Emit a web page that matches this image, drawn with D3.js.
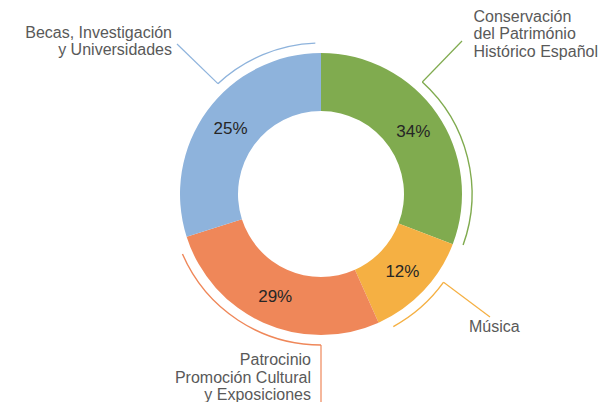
<!DOCTYPE html>
<html>
<head>
<meta charset="utf-8">
<script src="https://cdn.jsdelivr.net/npm/d3@7"></script>
<style>
    body { margin: 0; background: #fff; }
    svg { display: block; font-family: "Liberation Sans", Arial, sans-serif; }
</style>
</head>
<body>
<script>
// slice sizes as drawn (the printed labels differ a bit from the geometry)
const categories = ["Conservación del Património Histórico Español", "Música", "Patrocinio Promoción Cultural y Exposiciones", "Becas, Investigación y Universidades"];
const sliceValues = [30.8, 12.5, 26.8, 29.9];
const percentLabels = ["34%", "12%", "29%", "25%"];
const labelLines = [
    ["Conservación", "del Património", "Histórico Español"],
    ["Música"],
    ["Patrocinio", "Promoción Cultural", "y Exposiciones"],
    ["Becas, Investigación", "y Universidades"]
];
const colors = ["#80ab4f", "#f5b043", "#ef8759", "#8eb3dc"];

function main() {
    const canvasWidth = 608;
    const canvasHeight = 402;
    const cx = 321, cy = 194;
    const outerR = 141, innerR = 83, calloutR = 151;

    const svg = d3.select("body").append("svg")
        .attr("width", canvasWidth)
        .attr("height", canvasHeight)

    const g = svg.append("g")
        .attr("transform", "translate(" + cx + "," + cy + ")");

    const pie = d3.pie().sort(null).value(d => d);
    const arcs = pie(sliceValues);

    const arc = d3.arc().innerRadius(innerR).outerRadius(outerR);

    g.selectAll(".slice")
        .data(arcs)
        .enter()
        .append("path")
        .attr("class", "slice")
        .attr("d", arc)
        .style("fill", (d, i) => colors[i])

    g.selectAll(".pct")
        .data(arcs)
        .enter()
        .append("text")
        .attr("class", "pct")
        .attr("transform", d => "translate(" + arc.centroid(d) + ")")
        .attr("text-anchor", "middle")
        .attr("dy", "0.36em")
        .style("font-size", "17px")
        .style("fill", "#262626")
        .text((d, i) => percentLabels[i])

    // callout arcs: part of each slice's span, as fractions of it
    const calloutSpan = [[0.38, 0.99], [0.33, 0.90], [0.25, 0.94], [0.60, 0.98]];
    // where each leader line ends and where its label sits
    const leaderEnd = [[462, 41], [490, 317], [321, 410], [177, 44]];
    const labelPos = [
        { x: 473.5, y: 21.7, anchor: "start" },
        { x: 469, y: 331.7, anchor: "start" },
        { x: 311, y: 365, anchor: "end" },
        { x: 172, y: 37.5, anchor: "end" }
    ];

    const line = d3.arc().innerRadius(calloutR).outerRadius(calloutR);

    arcs.forEach((d, i) => {
        const span = d.endAngle - d.startAngle;
        const a0 = d.startAngle + span * calloutSpan[i][0];
        const a1 = d.startAngle + span * calloutSpan[i][1];
        const path = d3.path();
        path.arc(0, 0, calloutR, a0 - Math.PI / 2, a1 - Math.PI / 2);

        g.append("path")
            .attr("d", path.toString())
            .style("fill", "none")
            .style("stroke", colors[i])
            .style("stroke-width", 1.4)

        const sx = calloutR * Math.sin(a0);
        const sy = -calloutR * Math.cos(a0);
        g.append("line")
            .attr("x1", sx)
            .attr("y1", sy)
            .attr("x2", leaderEnd[i][0] - cx)
            .attr("y2", leaderEnd[i][1] - cy)
            .style("stroke", colors[i])
            .style("stroke-width", 1.2)

        const t = svg.append("text")
            .attr("x", labelPos[i].x)
            .attr("y", labelPos[i].y)
            .attr("text-anchor", labelPos[i].anchor)
            .style("font-size", "16px")
            .style("fill", "#595959")
        labelLines[i].forEach((s, k) => {
            t.append("tspan")
                .attr("x", labelPos[i].x)
                .attr("dy", k == 0 ? 0 : 17.6)
                .text(s)
        })
    })
}
main();
</script>
</body>
</html>
